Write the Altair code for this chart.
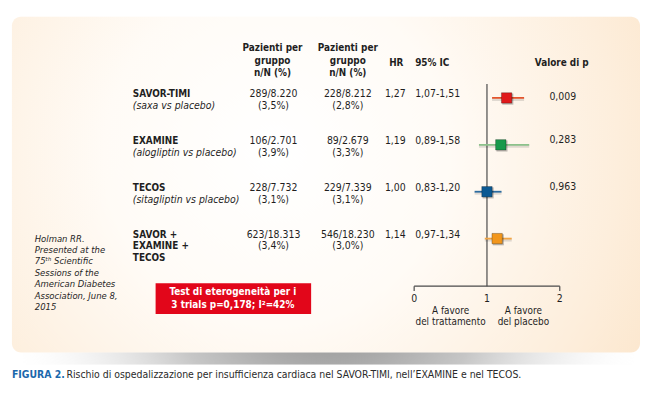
import altair as alt
import pandas as pd

# ---------------- data ----------------
trials = ["SAVOR-TIMI", "EXAMINE", "TECOS", "SAVOR +\nEXAMINE +\nTECOS"]
comparisons = ["(saxa vs placebo)", "(alogliptin vs placebo)", "(sitagliptin vs placebo)", ""]
treat_n = ["289/8.220", "106/2.701", "228/7.732", "623/18.313"]
treat_pct = ["(3,5%)", "(3,9%)", "(3,1%)", "(3,4%)"]
plac_n = ["228/8.212", "89/2.679", "229/7.339", "546/18.230"]
plac_pct = ["(2,8%)", "(3,3%)", "(3,1%)", "(3,0%)"]
hr = [1.27, 1.19, 1.00, 1.14]
ci_low = [1.07, 0.89, 0.83, 0.97]
ci_high = [1.51, 1.58, 1.20, 1.34]
p_values = ["0,009", "0,283", "0,963", ""]
square_colors = ["#E0191B", "#17994B", "#0B5993", "#F2961B"]
line_colors = ["#E4552C", "#8CC28B", "#2B6BA0", "#F2A443"]
axis_ticks = [0, 1, 2]
favour_labels = ["A favore\ndel trattamento", "A favore\ndel placebo"]
favour_pos = [0.5, 1.5]
source_lines = ["Holman RR.", "Presented at the", "75ᵗʰ Scientific", "Sessions of the",
                "American Diabetes", "Association, June 8,", "2015"]
het_text = ["Test di eterogeneità per i", "3 trials p=0,178; I²=42%"]
caption_bold = "FIGURA 2."
caption_rest = "Rischio di ospedalizzazione per insufficienza cardiaca nel SAVOR-TIMI, nell’EXAMINE e nel TECOS."

def it(v):
    return f"{v:.2f}".replace(".", ",")

df = pd.DataFrame({
    "row": list(range(len(trials))),
    "trial": trials,
    "comp": comparisons,
    "treat": [a + "\n" + b for a, b in zip(treat_n, treat_pct)],
    "plac": [a + "\n" + b for a, b in zip(plac_n, plac_pct)],
    "hr": hr,
    "hr_txt": [it(v) for v in hr],
    "lo": ci_low,
    "hi": ci_high,
    "ci_txt": [it(a) + "-" + it(b) for a, b in zip(ci_low, ci_high)],
    "p": p_values,
})

FONT = "Liberation Sans Narrow, DejaVu Sans Condensed, Arial Narrow, sans-serif"
TXT = "#1f1f1f"

xs = alt.Scale(domain=[0, 2], range=[410, 557], nice=False)
ys = alt.Scale(domain=[0, 3], range=[89, 231], nice=False)
Y = alt.Y("row:Q", scale=ys, axis=None)
one = pd.DataFrame({"k": [0]})

# ---------------- background ----------------
shadow = alt.Chart(one).mark_rect(
    fill=alt.RadialGradient(
        gradient="radial", x1=0.5, y1=0.35, r1=0, x2=0.5, y2=0.35, r2=0.55,
        stops=[alt.GradientStop(color="rgba(100,100,100,0.95)", offset=0),
               alt.GradientStop(color="rgba(160,160,160,0.6)", offset=0.5),
               alt.GradientStop(color="rgba(255,255,255,0)", offset=1)])
).encode(x=alt.value(15), x2=alt.value(632), y=alt.value(330), y2=alt.value(358))

panel = alt.Chart(one).mark_rect(
    cornerRadius=9,
    fill=alt.RadialGradient(
        gradient="radial", x1=0.42, y1=0.45, r1=0, x2=0.42, y2=0.45, r2=0.78,
        stops=[alt.GradientStop(color="#FFFFFF", offset=0),
               alt.GradientStop(color="#FFFBF6", offset=0.35),
               alt.GradientStop(color="#FDEEDC", offset=0.7),
               alt.GradientStop(color="#FBE1C2", offset=1)])
).encode(x=alt.value(4), x2=alt.value(638), y=alt.value(7), y2=alt.value(346))

# ---------------- headers ----------------
def header(text, x, y, align="center", lh=12.5):
    return alt.Chart(pd.DataFrame({"t": [text]})).mark_text(
        font=FONT, fontSize=10, fontWeight="bold", color=TXT, align=align,
        baseline="top", lineBreak="\n", lineHeight=lh
    ).encode(x=alt.value(x), y=alt.value(y), text="t:N")

h1 = header("Pazienti per\ngruppo\nn/N (%)", 267, 34)
h2 = header("Pazienti per\ngruppo\nn/N (%)", 343, 34)
h3 = header("HR", 392, 49)
h4 = header("95% IC", 411, 49, align="left")
h5 = header("Valore di p", 559, 49)

# ---------------- table ----------------
base = alt.Chart(df)

def col(field, x, align="center", weight="normal", style="normal", dy=-9, size=10.5):
    return base.mark_text(
        font=FONT, fontSize=size, fontWeight=weight, fontStyle=style, color=TXT,
        align=align, baseline="top", lineBreak="\n", lineHeight=12, dy=dy
    ).encode(x=alt.value(x), y=Y, text=f"{field}:N")

names = col("trial", 126, align="left", weight="bold", size=10)
comps = col("comp", 126, align="left", style="italic", dy=3)
t1 = col("treat", 268)
t2 = col("plac", 343)
t3 = col("hr_txt", 391)
t4 = col("ci_txt", 411, align="left")
p_first = col("p", 560, dy=-6).transform_filter("datum.row == 0")
p_rest = col("p", 560, dy=-10).transform_filter("datum.row > 0")

# ---------------- forest plot ----------------
vline = alt.Chart(one).mark_rule(color="#4a4a4a", strokeWidth=1.2).encode(
    x=alt.datum(1, scale=xs, axis=None), y=alt.value(75), y2=alt.value(279))

axis_line = alt.Chart(one).mark_rule(color="#4a4a4a", strokeWidth=1.2).encode(
    x=alt.datum(0, scale=xs, axis=None), x2=alt.datum(2), y=alt.value(279))

tick_df = pd.DataFrame({"v": [axis_ticks[0], axis_ticks[-1]]})
ticks = alt.Chart(tick_df).mark_rule(color="#4a4a4a", strokeWidth=1.2).encode(
    x=alt.X("v:Q", scale=xs, axis=None), y=alt.value(279), y2=alt.value(284))

tick_labels = alt.Chart(pd.DataFrame({"v": axis_ticks})).mark_text(
    font=FONT, fontSize=10.5, color=TXT, baseline="middle"
).encode(x=alt.X("v:Q", scale=xs, axis=None), y=alt.value(292), text="v:N")

fav = alt.Chart(pd.DataFrame({"v": favour_pos, "t": favour_labels})).mark_text(
    font=FONT, fontSize=10, color=TXT, baseline="top", lineBreak="\n", lineHeight=11.5
).encode(x=alt.X("v:Q", scale=xs, axis=None), y=alt.value(299), text="t:N")

ci_shadow = base.mark_rule(color="#000000", opacity=0.12, strokeWidth=3).encode(
    x=alt.X("lo:Q", scale=xs, axis=None), x2="hi:Q", y=Y, yOffset=alt.value(1.5))

ci = base.mark_rule(strokeWidth=1.8).encode(
    x=alt.X("lo:Q", scale=xs, axis=None), x2="hi:Q", y=Y,
    color=alt.Color("trial:N", scale=alt.Scale(domain=trials, range=line_colors), legend=None))

sq_shadow = base.mark_square(size=125, color="#000000", opacity=0.25).encode(
    x=alt.X("hr:Q", scale=xs, axis=None), y=Y, xOffset=alt.value(1.2), yOffset=alt.value(1.2))

squares = base.mark_square(size=110, opacity=1, strokeWidth=0.8, stroke="#00000055").encode(
    x=alt.X("hr:Q", scale=xs, axis=None), y=Y,
    fill=alt.Fill("trial:N", scale=alt.Scale(domain=trials, range=square_colors), legend=None))

# ---------------- notes ----------------
source = alt.Chart(pd.DataFrame({"t": ["\n".join(source_lines)]})).mark_text(
    font=FONT, fontSize=9.5, fontStyle="italic", color=TXT, align="left",
    baseline="top", lineBreak="\n", lineHeight=11.5
).encode(x=alt.value(27), y=alt.value(226), text="t:N")

red_box = alt.Chart(one).mark_rect(color="#E2061A").encode(
    x=alt.value(149), x2=alt.value(306), y=alt.value(276), y2=alt.value(307))

red_text = alt.Chart(pd.DataFrame({"t": ["\n".join(het_text)]})).mark_text(
    font=FONT, fontSize=10, fontWeight="bold", color="#FFFFFF",
    baseline="top", lineBreak="\n", lineHeight=13.5
).encode(x=alt.value(227), y=alt.value(280), text="t:N")

cap1 = alt.Chart(pd.DataFrame({"t": [caption_bold]})).mark_text(
    font=FONT, fontSize=10.5, fontWeight="bold", color="#1B68AC", align="left", baseline="middle"
).encode(x=alt.value(4), y=alt.value(369), text="t:N")

cap2 = alt.Chart(pd.DataFrame({"t": [caption_rest]})).mark_text(
    font=FONT, fontSize=10.5, color="#2a2a2a", align="left", baseline="middle"
).encode(x=alt.value(59), y=alt.value(369), text="t:N")

chart = alt.layer(
    shadow, panel,
    h1, h2, h3, h4, h5,
    names, comps, t1, t2, t3, t4, p_first, p_rest,
    vline, axis_line, ticks, tick_labels, fav,
    ci_shadow, ci, sq_shadow, squares,
    source, red_box, red_text, cap1, cap2,
).properties(
    width=640, height=377, autosize=alt.AutoSizeParams(type="none"), padding=0
).configure(background="#FFFFFF", view=alt.ViewConfig(stroke=None))

chart.save("out.html", embed_options={"renderer": "svg", "actions": False})
